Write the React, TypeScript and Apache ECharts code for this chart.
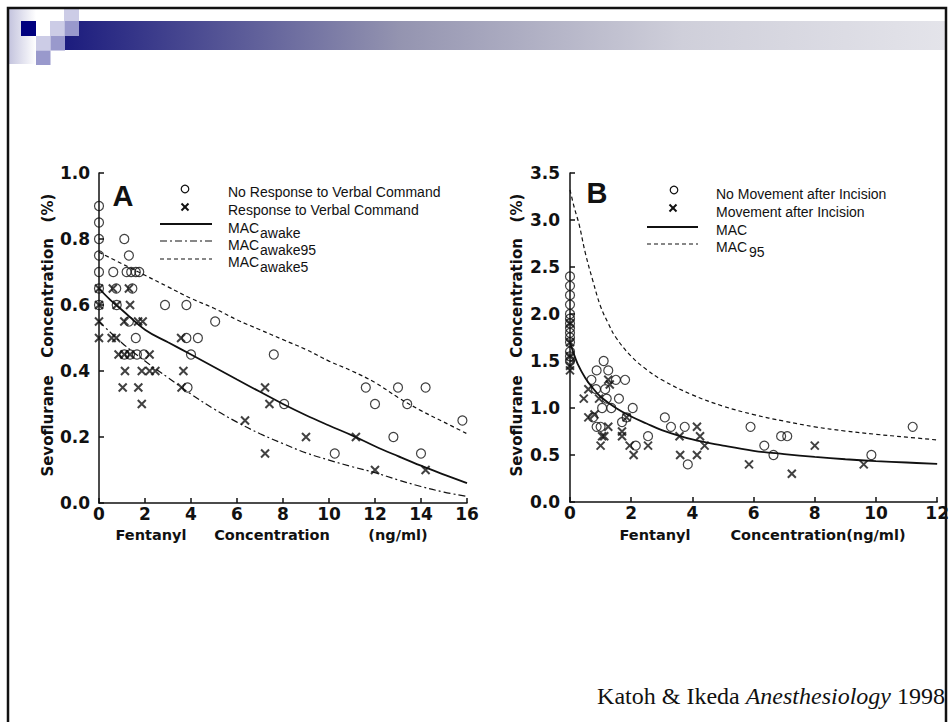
import React, { useEffect, useRef } from 'react';
import * as echarts from 'echarts';

// ---------- Panel A data (fentanyl ng/ml, sevoflurane %) ----------
const aNoResponse: [number, number][] = [
  [0, 0.9], [0, 0.85], [0, 0.8], [0, 0.75], [0, 0.7], [0, 0.65], [0, 0.6],
  [1.1, 0.8], [1.3, 0.75], [0.62, 0.7], [1.2, 0.7], [1.4, 0.7], [1.6, 0.7], [1.75, 0.7],
  [0.75, 0.65], [1.45, 0.65], [0.77, 0.6], [2.87, 0.6], [3.8, 0.6], [1.3, 0.55], [5.05, 0.55],
  [1.6, 0.5], [3.8, 0.5], [4.3, 0.5], [1.1, 0.45], [1.35, 0.45], [1.65, 0.45], [1.95, 0.45],
  [4.0, 0.45], [7.6, 0.45], [3.85, 0.35], [11.6, 0.35], [13.0, 0.35], [14.2, 0.35],
  [8.05, 0.3], [12.0, 0.3], [13.4, 0.3], [15.8, 0.25], [12.8, 0.2], [10.25, 0.15], [14.0, 0.15],
];
const aResponse: [number, number][] = [
  [0, 0.65], [0, 0.6], [0, 0.55], [0, 0.5],
  [0.6, 0.65], [1.3, 0.65], [0.77, 0.6], [1.35, 0.6], [1.1, 0.55], [1.7, 0.55], [1.9, 0.55],
  [0.55, 0.5], [0.75, 0.5], [3.57, 0.5], [0.85, 0.45], [1.1, 0.45], [1.35, 0.45], [2.2, 0.45],
  [1.13, 0.4], [1.86, 0.4], [2.2, 0.4], [2.45, 0.4], [3.67, 0.4], [1.03, 0.35], [1.71, 0.35],
  [3.59, 0.35], [7.22, 0.35], [1.86, 0.3], [7.41, 0.3], [6.35, 0.25], [9.0, 0.2], [11.17, 0.2],
  [7.22, 0.15], [12.0, 0.1], [14.2, 0.1],
];
const aMacAwake: [number, number][] = [
  [0, 0.65], [0.5, 0.615], [1, 0.585], [2, 0.525], [3, 0.487], [4, 0.45], [5, 0.412], [6, 0.374],
  [7, 0.337], [8, 0.3], [9, 0.266], [10, 0.235], [11, 0.205], [12, 0.172], [13, 0.142],
  [14, 0.113], [15, 0.086], [16, 0.06],
];
const aMacAwake95: [number, number][] = [
  [0, 0.55], [1, 0.485], [2, 0.43], [3, 0.38], [4, 0.33], [5, 0.285], [6, 0.245], [7, 0.21],
  [8, 0.18], [9, 0.152], [10, 0.13], [11, 0.11], [12, 0.092], [13, 0.07], [14, 0.05],
  [15, 0.033], [16, 0.02],
];
const aMacAwake5: [number, number][] = [
  [0, 0.76], [1, 0.725], [2, 0.69], [3, 0.655], [4, 0.62], [5, 0.59], [6, 0.555], [7, 0.525],
  [8, 0.495], [9, 0.465], [10, 0.43], [11, 0.4], [12, 0.365], [13, 0.32], [14, 0.28],
  [15, 0.245], [16, 0.21],
];

// ---------- Panel B data ----------
const bNoMovement: [number, number][] = [
  [0, 2.4], [0, 2.3], [0, 2.2], [0, 2.1], [0, 2.0], [0, 1.95], [0, 1.9], [0, 1.85], [0, 1.8],
  [0, 1.75], [0, 1.7], [0, 1.6], [0, 1.55], [0, 1.5],
  [1.1, 1.5], [0.87, 1.4], [1.25, 1.4], [0.7, 1.3], [1.5, 1.3], [1.8, 1.3], [0.85, 1.2],
  [1.15, 1.2], [1.2, 1.1], [1.6, 1.1], [1.05, 1.0], [1.35, 1.0], [2.05, 1.0], [0.75, 0.9],
  [1.85, 0.9], [3.1, 0.9], [0.87, 0.8], [1.0, 0.8], [1.7, 0.85], [3.3, 0.8], [3.75, 0.8],
  [5.9, 0.8], [11.2, 0.8], [2.55, 0.7], [6.9, 0.7], [7.1, 0.7], [2.15, 0.6], [6.35, 0.6],
  [6.65, 0.5], [9.85, 0.5], [3.85, 0.4],
];
const bMovement: [number, number][] = [
  [0, 1.9], [0, 1.7], [0, 1.55], [0, 1.45], [0, 1.4],
  [0.45, 1.1], [0.6, 1.2], [0.95, 1.1], [1.25, 1.3], [1.3, 1.25], [0.6, 0.9], [0.8, 0.93],
  [1.25, 0.8], [1.05, 0.7], [1.12, 0.7], [1.0, 0.6], [1.7, 0.7], [1.7, 0.75], [1.85, 0.9],
  [1.95, 0.6], [2.08, 0.5], [2.55, 0.6], [3.58, 0.7], [3.6, 0.5], [4.15, 0.8], [4.25, 0.7],
  [4.4, 0.6], [4.15, 0.5], [5.85, 0.4], [7.25, 0.3], [8.0, 0.6], [9.6, 0.4],
];
const bMac: [number, number][] = [
  [0, 1.7], [0.1, 1.6], [0.25, 1.47], [0.5, 1.32], [0.75, 1.21], [1, 1.12], [1.5, 1.0],
  [2, 0.91], [2.5, 0.835], [3, 0.765], [4, 0.665], [5, 0.6], [6, 0.545], [7, 0.51],
  [8, 0.48], [9, 0.455], [10, 0.435], [11, 0.42], [12, 0.405],
];
const bMac95: [number, number][] = [
  [0, 3.32], [0.15, 3.12], [0.3, 2.95], [0.5, 2.65], [0.75, 2.35], [1, 2.08], [1.25, 1.9],
  [1.5, 1.75], [2, 1.55], [2.5, 1.41], [3, 1.3], [4, 1.14], [5, 1.02], [6, 0.93], [7, 0.86],
  [8, 0.8], [9, 0.755], [10, 0.72], [11, 0.69], [12, 0.66],
];

const INK = '#111';
const CROSS = 'path://M0,0L10,10M10,0L0,10';

function axisBase(min: number, max: number, interval: number, digits: number, margin: number) {
  return {
    type: 'value',
    min,
    max,
    interval,
    axisLine: { show: true, onZero: false, lineStyle: { color: INK, width: 1.5 } },
    axisTick: { show: true, inside: true, length: 5, lineStyle: { color: INK, width: 1.5 } },
    axisLabel: {
      color: INK,
      fontFamily: 'DejaVu Sans',
      fontWeight: 'bold',
      fontSize: 17,
      margin,
      formatter: (v: number) => v.toFixed(digits),
    },
    splitLine: { show: false },
  };
}

function circles(data: [number, number][], idx: number) {
  return {
    type: 'scatter',
    xAxisIndex: idx,
    yAxisIndex: idx,
    data,
    symbol: 'circle',
    symbolSize: 9,
    clip: false,
    itemStyle: { color: 'rgba(0,0,0,0)', borderColor: INK, borderWidth: 1.2 },
  };
}
function crosses(data: [number, number][], idx: number) {
  return {
    type: 'scatter',
    xAxisIndex: idx,
    yAxisIndex: idx,
    data,
    symbol: CROSS,
    symbolSize: 8,
    clip: false,
    itemStyle: { color: 'rgba(0,0,0,0)', borderColor: INK, borderWidth: 2 },
  };
}
function curve(data: [number, number][], idx: number, type: any, width: number) {
  return {
    type: 'line',
    xAxisIndex: idx,
    yAxisIndex: idx,
    data,
    smooth: 0.4,
    symbol: 'none',
    clip: false,
    lineStyle: { color: INK, width, type },
  };
}

const titleFont = { fontFamily: 'DejaVu Sans', fontWeight: 'bold', fontSize: 15, fill: INK };
const xTitleFont = { fontFamily: 'DejaVu Sans', fontWeight: 'bold', fontSize: 14.5, fill: INK };
const legFont = { fontFamily: 'Liberation Sans', fontSize: 14, fill: INK };

function vText(text: string, x: number, y: number) {
  return {
    type: 'text',
    x,
    y,
    rotation: Math.PI / 2,
    style: { text, align: 'center', verticalAlign: 'middle', ...titleFont },
  };
}
function hText(text: string, x: number, y: number, font: any = xTitleFont, align = 'center') {
  return { type: 'text', x, y, style: { text, align, verticalAlign: 'middle', ...font } };
}
function sq(x: number, y: number, w: number, h: number, fill: string) {
  return { type: 'rect', shape: { x, y, width: w, height: h }, style: { fill } };
}

export default function App() {
  const ref = useRef<HTMLDivElement>(null);
  useEffect(() => {
    if (!ref.current) return;
    const chart = echarts.init(ref.current, null, { renderer: 'svg' });
    const light = '#ccccE6';
    const mid = '#9999CC';
    const graphic: any[] = [
      // slide decoration
      {
        type: 'rect',
        shape: { x: 9, y: 9, width: 27, height: 55 },
        style: {
          fill: new echarts.graphic.LinearGradient(0, 0, 1, 0, [
            { offset: 0, color: '#c4c4de' },
            { offset: 1, color: '#ffffff' },
          ]),
        },
      },
      {
        type: 'rect',
        shape: { x: 65, y: 21, width: 881, height: 29 },
        style: {
          fill: new echarts.graphic.LinearGradient(0, 0, 1, 0, [
            { offset: 0, color: '#1c1c7e' },
            { offset: 0.38, color: '#9494b0' },
            { offset: 0.7, color: '#cfcfda' },
            { offset: 1, color: '#e4e4ea' },
          ]),
        },
      },
      sq(21, 21, 15, 15, '#00007f'),
      sq(64, 9, 15, 12, light),
      sq(50, 21, 14.5, 15, light),
      sq(64.5, 21, 14.5, 15, mid),
      sq(36, 36, 14.5, 14.5, light),
      sq(50.5, 36, 14.5, 14.5, mid),
      sq(36, 50.5, 14.5, 14.5, mid),
      {
        type: 'rect',
        shape: { x: 8, y: 8, width: 938, height: 740 },
        style: { fill: 'none', stroke: INK, lineWidth: 2.5 },
      },
      // Panel A texts
      { type: 'text', x: 123, y: 196, style: { text: 'A', align: 'center', verticalAlign: 'middle', fontFamily: 'Liberation Sans', fontWeight: 'bold', fontSize: 29, fill: INK } },
      vText('Sevoflurane', 48, 426),
      vText('Concentration', 48, 298),
      vText('(%)', 48, 208),
      hText('Fentanyl', 151, 535),
      hText('Concentration', 272, 535),
      hText('(ng/ml)', 398, 535),
      // Panel A legend
      { type: 'circle', shape: { cx: 185, cy: 189, r: 3.8 }, style: { fill: 'none', stroke: INK, lineWidth: 1.2 } },
      { type: 'line', shape: { x1: 181.5, y1: 203.5, x2: 188.5, y2: 210.5 }, style: { stroke: INK, lineWidth: 2 } },
      { type: 'line', shape: { x1: 188.5, y1: 203.5, x2: 181.5, y2: 210.5 }, style: { stroke: INK, lineWidth: 2 } },
      { type: 'line', shape: { x1: 160, y1: 224, x2: 212, y2: 224 }, style: { stroke: INK, lineWidth: 1.8 } },
      { type: 'line', shape: { x1: 160, y1: 241, x2: 212, y2: 241 }, style: { stroke: INK, lineWidth: 1.2, lineDash: [7, 3, 2, 3] } },
      { type: 'line', shape: { x1: 160, y1: 259, x2: 212, y2: 259 }, style: { stroke: INK, lineWidth: 1.2, lineDash: [4, 3] } },
      hText('No Response to Verbal Command', 228, 192, legFont, 'left'),
      hText('Response to Verbal Command', 228, 210, legFont, 'left'),
      hText('MAC', 228, 228, legFont, 'left'),
      hText('awake', 260, 233, legFont, 'left'),
      hText('MAC', 228, 245, legFont, 'left'),
      hText('awake95', 260, 250, legFont, 'left'),
      hText('MAC', 228, 262, legFont, 'left'),
      hText('awake5', 260, 267, legFont, 'left'),
      // Panel B texts
      { type: 'text', x: 597, y: 193, style: { text: 'B', align: 'center', verticalAlign: 'middle', fontFamily: 'Liberation Sans', fontWeight: 'bold', fontSize: 29, fill: INK } },
      vText('Sevoflurane', 517, 426),
      vText('Concentration', 517, 298),
      vText('(%)', 517, 208),
      hText('Fentanyl', 655, 535),
      hText('Concentration(ng/ml)', 818, 535),
      // Panel B legend
      { type: 'circle', shape: { cx: 674, cy: 190, r: 3.8 }, style: { fill: 'none', stroke: INK, lineWidth: 1.2 } },
      { type: 'line', shape: { x1: 669.5, y1: 204.5, x2: 676.5, y2: 211.5 }, style: { stroke: INK, lineWidth: 2 } },
      { type: 'line', shape: { x1: 676.5, y1: 204.5, x2: 669.5, y2: 211.5 }, style: { stroke: INK, lineWidth: 2 } },
      { type: 'line', shape: { x1: 647, y1: 227, x2: 698, y2: 227 }, style: { stroke: INK, lineWidth: 1.8 } },
      { type: 'line', shape: { x1: 647, y1: 244, x2: 698, y2: 244 }, style: { stroke: INK, lineWidth: 1.2, lineDash: [4, 3] } },
      hText('No Movement after Incision', 716, 194, legFont, 'left'),
      hText('Movement after Incision', 716, 212, legFont, 'left'),
      hText('MAC', 716, 230, legFont, 'left'),
      hText('MAC', 716, 247, legFont, 'left'),
      hText('95', 749, 252, legFont, 'left'),
      // citation
      {
        type: 'text',
        x: 945,
        y: 696,
        style: {
          text: '{a|Katoh & Ikeda }{b|Anesthesiology}{a| 1998}',
          align: 'right',
          verticalAlign: 'middle',
          rich: {
            a: { fontFamily: 'Liberation Serif', fontSize: 24, fill: INK, color: INK },
            b: { fontFamily: 'Liberation Serif', fontSize: 24, fontStyle: 'italic', fill: INK, color: INK },
          },
        },
      },
    ];

    chart.setOption({
      animation: false,
      backgroundColor: '#ffffff',
      grid: [
        { left: 99, top: 173, width: 368, height: 330 },
        { left: 570, top: 173, width: 369, height: 329 },
      ],
      xAxis: [
        { ...axisBase(0, 16, 2, 0, 2), gridIndex: 0 },
        { ...axisBase(0, 12, 2, 0, 2), gridIndex: 1 },
      ],
      yAxis: [
        { ...axisBase(0, 1.0, 0.2, 1, 9), gridIndex: 0 },
        { ...axisBase(0, 3.5, 0.5, 1, 10), gridIndex: 1 },
      ],
      series: [
        curve(aMacAwake, 0, 'solid', 1.8),
        curve(aMacAwake95, 0, [7, 3, 2, 3], 1.2),
        curve(aMacAwake5, 0, [4, 3], 1.2),
        circles(aNoResponse, 0),
        crosses(aResponse, 0),
        curve(bMac, 1, 'solid', 1.8),
        curve(bMac95, 1, [4, 3], 1.2),
        circles(bNoMovement, 1),
        crosses(bMovement, 1),
      ],
      graphic,
    });
    return () => chart.dispose();
  }, []);
  return (
    <div
      ref={ref}
      style={{ position: 'fixed', left: 0, top: 0, width: 952, height: 722, background: '#fff' }}
    />
  );
}
